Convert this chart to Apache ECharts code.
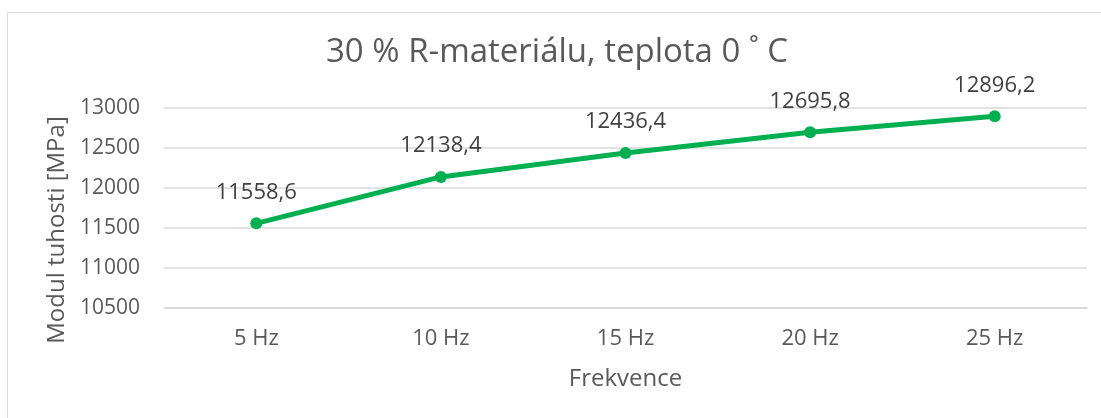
<!DOCTYPE html>
<html><head><meta charset="utf-8">
<script src="https://cdn.jsdelivr.net/npm/echarts@6/dist/echarts.min.js"></script>
<style>html,body{margin:0;padding:0;background:#fff}#c{width:1101px;height:418px}</style>
</head><body><div id="c"></div>
<script>
const categories = ['5 Hz', '10 Hz', '15 Hz', '20 Hz', '25 Hz'];
const modulValues = [11558.6, 12138.4, 12436.4, 12695.8, 12896.2];
const titleText = '30 % R-materiálu, teplota 0 ˚ C';
const yAxisName = 'Modul tuhosti [MPa]';
const xAxisName = 'Frekvence';

const chart = echarts.init(document.getElementById('c'), null, {renderer: 'canvas'});
const F = '"Open Sans", sans-serif';
chart.setOption({
  animation: false,
  graphic: [{type: 'rect', shape: {x: 7.5, y: 12.5, width: 1200, height: 500}, style: {fill: 'none', stroke: '#d9d9d9', lineWidth: 1}, silent: true}],
  title: {text: titleText, left: 326, top: 36, padding: 0, textStyle: {fontFamily: F, fontSize: 33, fontWeight: 'normal', color: '#595959'}},
  grid: {left: 164, right: 14, top: 108, bottom: 110, containLabel: false},
  xAxis: {type: 'category', data: categories, boundaryGap: true,
    name: xAxisName, nameLocation: 'middle', nameGap: 59,
    nameTextStyle: {fontFamily: F, fontSize: 24, color: '#595959'},
    axisLine: {show: true, lineStyle: {color: '#d9d9d9', width: 1.5}},
    axisTick: {show: false},
    axisLabel: {fontFamily: F, fontSize: 22, color: '#595959', margin: 20}},
  yAxis: {type: 'value', min: 10500, max: 13000, interval: 500,
    name: yAxisName, nameLocation: 'middle', nameGap: 93, nameRotate: 90,
    nameTextStyle: {fontFamily: F, fontSize: 24, color: '#595959', padding: [0, 44, 0, 0]},
    axisLine: {show: false}, axisTick: {show: false},
    splitLine: {lineStyle: {color: '#d9d9d9', width: 1.5}},
    axisLabel: {fontFamily: F, fontSize: 21, color: '#595959', margin: 24, formatter: v => String(v)}},
  series: [{type: 'line', data: modulValues, symbol: 'circle', symbolSize: 12,
    lineStyle: {color: '#00b050', width: 5}, itemStyle: {color: '#00b050'},
    label: {show: true, position: 'top', distance: 14, fontFamily: F, fontSize: 22, color: '#404040',
      formatter: p => String(p.value).replace('.', ',')}}]
});
</script></body></html>
